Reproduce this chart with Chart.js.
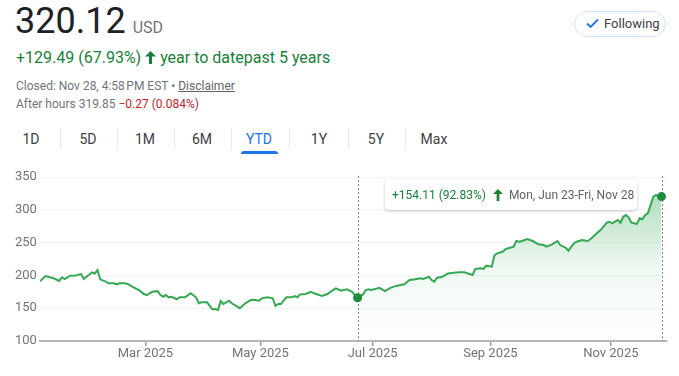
<!DOCTYPE html>
<html>
<head>
<meta charset="utf-8">
<script src="https://cdn.jsdelivr.net/npm/chart.js@4.4.1/dist/chart.umd.min.js"></script>
<style>
  body { margin: 0; width: 679px; height: 376px; overflow: hidden; background: #fff; font-family: Roboto, Arial, sans-serif; position: relative; }
  .abs { position: absolute; white-space: nowrap; }
  #price { left: 15px; top: 0; font-size: 36px; line-height: 42px; color: #202124; }
  #price span { font-size: 16px; color: #70757a; margin-left: 7px; }
  #change { left: 16px; top: 48px; font-size: 16px; line-height: 20px; color: #188038; }
  #closed { left: 16px; top: 78px; font-size: 12px; line-height: 16px; color: #70757a; }
  #closed u { color: #5f6368; }
  #after { left: 16px; top: 96px; font-size: 12px; line-height: 16px; color: #70757a; }
  #after b { font-weight: normal; color: #c5221f; }
  #follow { left: 574px; top: 11px; width: 92px; height: 26px; border: 1px solid #d2e3fc; border-radius: 14px; box-sizing: border-box; font-size: 13px; color: #3c4043; line-height: 24px; }
  #follow svg { position: absolute; left: 11px; top: 6px; }
  #follow span { position: absolute; left: 29px; }
  .tab { top: 130px; font-size: 14px; line-height: 18px; color: #3c4043; transform: translateX(-50%); }
  .sep { top: 128px; width: 1px; height: 22px; background: #e8eaed; }
  #under { left: 241px; top: 151px; width: 37px; height: 3px; background: #1a73e8; border-radius: 3px 3px 0 0; }
  #wrap { position: absolute; left: 0; top: 160px; width: 679px; height: 216px; }
  #tip { left: 385px; top: 180px; width: 252px; height: 30px; background: #fff; border-radius: 4px; box-shadow: 0 1px 3px rgba(0,0,0,0.25); font-size: 12px; line-height: 30px; color: #5f6368; }
  #tip .g { color: #188038; margin-left: 7px; }
  #tip svg { vertical-align: -2px; margin: 0 6px 0 7px; }
</style>
</head>
<body>
<div id="price" class="abs">320.12<span>USD</span></div>
<div id="change" class="abs">+129.49 (67.93%) <svg width="11" height="13" viewBox="0 0 11 13" style="vertical-align:-1px"><path d="M5.5 0 L11 5.5 L7 5.5 L7 13 L4 13 L4 5.5 L0 5.5 Z" fill="#188038"/></svg> year to datepast 5 years</div>
<div id="closed" class="abs">Closed: Nov 28, 4:58&#8239;PM EST • <u>Disclaimer</u></div>
<div id="after" class="abs">After hours 319.85 <b>−0.27 (0.084%)</b></div>
<div id="follow" class="abs"><svg width="13" height="11" viewBox="0 0 13 11"><path d="M1 5.5 L4.6 9 L12 1.5" stroke="#1a73e8" stroke-width="1.8" fill="none"/></svg><span>Following</span></div>

<div id="tabs"></div>
<div id="under" class="abs"></div>

<div id="wrap"><canvas id="chart"></canvas></div>
<div id="tip" class="abs"><span class="g">+154.11 (92.83%)</span><svg width="10" height="12" viewBox="0 0 11 13"><path d="M5.5 0 L11 5.5 L7 5.5 L7 13 L4 13 L4 5.5 L0 5.5 Z" fill="#188038"/></svg>Mon, Jun 23-Fri, Nov 28</div>

<script>
// range tabs
var tabs = ["1D", "5D", "1M", "6M", "YTD", "1Y", "5Y", "Max"];
var tabX = [31, 88, 145, 202, 259, 319, 376, 434];
var tabBox = document.getElementById("tabs");
tabs.forEach(function (t, i) {
  var d = document.createElement("div");
  d.className = "abs tab";
  d.style.left = tabX[i] + "px";
  if (t === "YTD") d.style.color = "#1a73e8";
  d.textContent = t;
  tabBox.appendChild(d);
  if (i < tabs.length - 1) {
    var s = document.createElement("div");
    s.className = "abs sep";
    s.style.left = Math.round((tabX[i] + tabX[i + 1]) / 2) + "px";
    tabBox.appendChild(s);
  }
});

// trading day index since Jan 2, 2025
var days = [0,2,5,7,8,9,11,13,15,16,17,19,20,21,22,24,25,27,28,29,31,32,34,36,38,39,41,43,44,45,46,47,48,50,51,53,55,57,58,59,61,62,63,64,65,66,67,69,70,73,75,77,78,80,81,83,85,86,87,88,89,90,92,93,94,95,97,99,100,103,105,107,108,110,112,114,115,116,118,119,120,121,124,126,128,130,133,135,137,139,140,142,143,144,145,147,149,151,153,155,158,159,161,162,163,165,166,167,169,170,171,173,174,175,176,178,180,182,184,185,187,189,190,192,193,195,196,198,200,201,204,205,207,208,209,211,212,213,214,215,216,218,219,220,221,222,223,224,225,227];
var prices = [191,199,195.6,191.5,197,194.5,199.5,200,202,194.5,198,204.7,203,208,194,190.4,188,188,186.4,188,188,187,182,178,171.6,170,175,176,170,167.5,170,166.6,167.5,163.6,166.6,166.6,172.7,166.6,157.5,159,159,153.4,148.3,148.8,147.3,161,156.4,161.4,157.5,150,157.5,162.5,163,161.4,165,166.6,165,153.4,156.4,156.4,161.4,166.6,166.6,168.6,166.6,171,171.6,175,172.7,168.6,171.6,177.7,180.3,176.6,178.7,175,170,166.01,171,177.7,179,177.7,181,176,181,184,186.4,193,194,195.5,194.5,198,193,190.4,196.5,198,203,204,204.7,204.7,200.6,209.8,210.8,209.8,214.8,213.3,231,233.6,236,240.2,241.3,243.8,252.4,251.4,252.4,255.5,252.4,247.4,246.3,243.8,247.4,252.4,246.3,242.2,237.7,249,251.4,254,252.4,255,266.6,270.3,280.3,281.8,279.3,284.5,280.3,289.4,292,288.6,280.3,278.4,287,285.5,292,294.6,307.3,320,322.6,320.12];

var monthTicks = [38.5, 80.5, 121.5, 164.5, 208.5];
var monthLabels = ["Mar 2025", "May 2025", "Jul 2025", "Sep 2025", "Nov 2025"];
var rangeStart = 116; // Mon, Jun 23
var rangeEnd = 227;   // Fri, Nov 28

var points = days.map(function (d, i) { return { x: d, y: prices[i] }; });
var rangePoints = points.filter(function (p) { return p.x >= rangeStart; });

Chart.defaults.font.family = "Roboto";
Chart.defaults.font.size = 13;
Chart.defaults.color = "#70757a";

var markers = {
  id: "markers",
  afterDatasetsDraw: function (chart) {
    var ctx = chart.ctx, x = chart.scales.x, y = chart.scales.y;
    var top = chart.chartArea.top - 1, bottom = chart.chartArea.bottom;
    [rangeStart, rangeEnd].forEach(function (d) {
      var px = Math.round(x.getPixelForValue(d)) + 0.5;
      ctx.save();
      ctx.strokeStyle = "#80868b";
      ctx.lineWidth = 1;
      ctx.setLineDash([2, 2]);
      ctx.beginPath();
      ctx.moveTo(px, top);
      ctx.lineTo(px, bottom);
      ctx.stroke();
      ctx.restore();
      var v = prices[days.indexOf(d)];
      ctx.beginPath();
      ctx.fillStyle = "#1e8e3e";
      ctx.arc(x.getPixelForValue(d), y.getPixelForValue(v), 4.5, 0, Math.PI * 2);
      ctx.fill();
    });
  }
};

new Chart(document.getElementById("chart"), {
  type: "line",
  data: {
    datasets: [
      {
        data: points,
        borderColor: "#34a853",
        borderWidth: 2,
        pointRadius: 0,
        tension: 0,
        fill: false,
        order: 1
      },
      {
        data: rangePoints,
        borderWidth: 0,
        pointRadius: 0,
        tension: 0,
        fill: "start",
        order: 2,
        backgroundColor: function (c) {
          var a = c.chart.chartArea;
          if (!a) return "rgba(52,168,83,0.3)";
          var g = c.chart.ctx.createLinearGradient(0, a.top, 0, a.bottom);
          g.addColorStop(0, "rgba(52,168,83,0.45)");
          g.addColorStop(0.55, "rgba(52,168,83,0.08)");
          g.addColorStop(1, "rgba(52,168,83,0)");
          return g;
        }
      }
    ]
  },
  options: {
    responsive: true,
    maintainAspectRatio: false,
    animation: false,
    layout: { padding: { left: 15, right: 12, top: 17, bottom: 0 } },
    plugins: { legend: { display: false }, tooltip: { enabled: false } },
    scales: {
      x: {
        type: "linear",
        min: 0,
        max: 229,
        afterBuildTicks: function (s) {
          s.ticks = monthTicks.map(function (v) { return { value: v }; });
        },
        afterFit: function (s) { s.height = 35; },
        ticks: {
          autoSkip: false,
          maxRotation: 0,
          padding: 0,
          callback: function (v, i) { return monthLabels[i]; }
        },
        grid: { drawOnChartArea: false, tickLength: 5, color: "#9aa0a6", lineWidth: 1.5 },
        border: { color: "#b4b7bb", width: 2 }
      },
      y: {
        min: 100,
        max: 350,
        afterFit: function (s) { s.width = 25; },
        ticks: { stepSize: 50, crossAlign: "far", padding: 0 },
        grid: { color: "#f1f3f4", drawTicks: false },
        border: { display: false }
      }
    }
  },
  plugins: [markers]
});
</script>
</body>
</html>
